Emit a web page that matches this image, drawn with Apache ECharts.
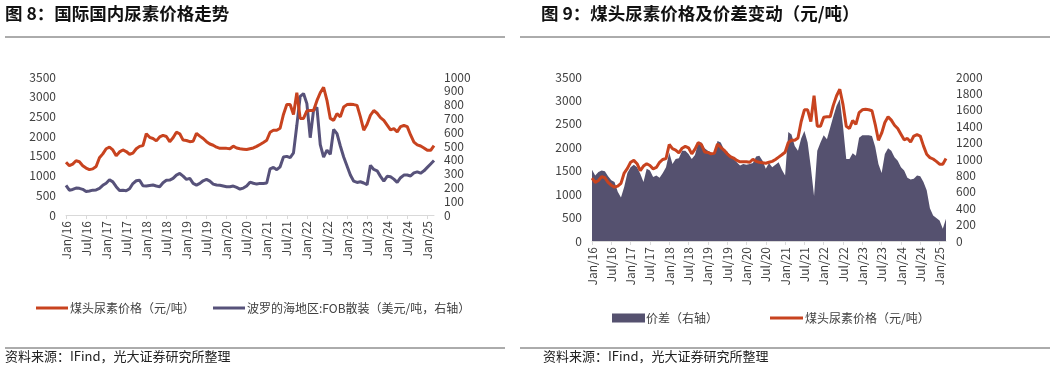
<!DOCTYPE html>
<html><head><meta charset="utf-8">
<script src="https://cdn.jsdelivr.net/npm/echarts@6/dist/echarts.min.js"></script>
<style>html,body{margin:0;padding:0;background:#fff}#c{width:1054px;height:369px}</style>
</head><body><div id="c"></div>
<script>
const months = [
 '2016-01','2016-02','2016-03','2016-04','2016-05','2016-06','2016-07','2016-08','2016-09','2016-10','2016-11','2016-12',
 '2017-01','2017-02','2017-03','2017-04','2017-05','2017-06','2017-07','2017-08','2017-09','2017-10','2017-11','2017-12',
 '2018-01','2018-02','2018-03','2018-04','2018-05','2018-06','2018-07','2018-08','2018-09','2018-10','2018-11','2018-12',
 '2019-01','2019-02','2019-03','2019-04','2019-05','2019-06','2019-07','2019-08','2019-09','2019-10','2019-11','2019-12',
 '2020-01','2020-02','2020-03','2020-04','2020-05','2020-06','2020-07','2020-08','2020-09','2020-10','2020-11','2020-12',
 '2021-01','2021-02','2021-03','2021-04','2021-05','2021-06','2021-07','2021-08','2021-09','2021-10','2021-11','2021-12',
 '2022-01','2022-02','2022-03','2022-04','2022-05','2022-06','2022-07','2022-08','2022-09','2022-10','2022-11','2022-12',
 '2023-01','2023-02','2023-03','2023-04','2023-05','2023-06','2023-07','2023-08','2023-09','2023-10','2023-11','2023-12',
 '2024-01','2024-02','2024-03','2024-04','2024-05','2024-06','2024-07','2024-08','2024-09','2024-10','2024-11','2024-12',
 '2025-01','2025-02','2025-03'
];
// 煤头尿素价格 (元/吨)
const coalUrea = [
 1340,1250,1290,1375,1350,1250,1190,1150,1170,1230,1450,1550,
 1680,1720,1650,1500,1600,1650,1610,1540,1570,1680,1740,1760,
 2060,1970,1940,1880,1980,2020,1990,1860,1960,2100,2060,1900,
 1890,1860,1870,2070,2000,1940,1860,1800,1770,1720,1690,1690,
 1690,1680,1745,1700,1680,1670,1660,1680,1700,1740,1790,1840,
 1895,2100,2150,2150,2200,2550,2800,2800,2550,3100,2450,2450,
 2640,2650,2650,2900,3100,3240,2910,2450,2400,2570,2490,2740,
 2800,2810,2800,2780,2490,2150,2300,2530,2650,2580,2470,2400,
 2280,2160,2190,2110,2240,2270,2240,2030,1850,1780,1750,1700,
 1640,1640,1760
];
// 波罗的海地区:FOB散装 (美元/吨)
const balticFob = [
 215,180,185,195,193,186,170,174,180,182,193,215,
 230,255,240,205,178,180,176,190,228,248,252,212,
 210,214,217,210,205,234,252,253,265,289,301,282,
 258,265,229,217,229,248,258,245,224,217,215,210,
 205,205,210,200,188,195,210,238,230,224,229,229,
 232,335,345,328,349,420,425,415,450,650,860,880,
 807,560,760,780,510,420,470,440,620,590,500,420,
 355,290,245,236,241,232,220,360,330,320,280,245,
 280,277,260,236,270,289,290,283,305,313,303,320,
 345,370,395
];
// 价差 (元/吨, 右轴)
const spread = [
 870,800,840,860,850,790,740,720,600,530,660,830,
 900,930,900,820,720,880,860,780,800,770,830,900,
 1080,940,1000,1010,1100,1100,1060,1000,1050,1200,1200,1130,
 1100,1080,1060,1220,1200,1120,1090,1040,1000,960,920,940,
 930,940,950,1030,1040,980,880,950,900,930,960,870,
 800,1330,1300,1160,1100,1250,1340,1200,900,550,1100,1200,
 1290,1240,1380,1520,1650,1730,1400,1000,1000,1070,1040,1260,
 1290,1290,1290,1280,1150,940,830,1060,1130,1100,1020,980,
 900,860,770,750,760,800,790,720,620,400,310,280,
 250,150,270
];
const monthNames = {'01':'Jan','07':'Jul'};

const FONT = '"Noto Sans CJK SC", "Noto Sans", sans-serif';
const RED = '#C8431F', PURPLE = '#57527A', AREA = '#55516F';
const TXT = '#404040';

function xAxisCfg(gi){
  return {
    type:'category', gridIndex:gi, data:months, boundaryGap:false,
    axisLine:{lineStyle:{color:'#D9D9D9', width:1}},
    axisTick:{interval:5, length:4, lineStyle:{color:'#D9D9D9'}},
    axisLabel:{interval:5, rotate:90, margin:6, color:TXT, fontSize:12, fontFamily:FONT,
      formatter:v=>{const p=v.split('-');return (monthNames[p[1]]||'')+'/'+p[0].slice(2);}},
    splitLine:{show:false}
  };
}
function yAxisCfg(gi,pos,max,interval){
  return {
    type:'value', gridIndex:gi, position:pos, min:0, max:max, interval:interval,
    axisLine:{show:false}, axisTick:{show:false}, splitLine:{show:false},
    axisLabel:{color:TXT, fontSize:12, fontFamily:FONT, margin:10, formatter:v=>String(v)}
  };
}

const chart = echarts.init(document.getElementById('c'), null, {renderer:'canvas'});
chart.setOption({
  animation:false,
  textStyle:{fontFamily:FONT},
  grid:[
    {left:66, top:77, width:368, height:138},
    {left:592, top:77, width:354, height:164}
  ],
  xAxis:[xAxisCfg(0), xAxisCfg(1)],
  yAxis:[
    yAxisCfg(0,'left',3500,500),
    yAxisCfg(0,'right',1000,100),
    yAxisCfg(1,'left',3500,500),
    yAxisCfg(1,'right',2000,200)
  ],
  legend:[
    {data:[{name:'煤头尿素价格（元/吨）',icon:'rect'}], left:31, top:297, itemWidth:32, itemHeight:3,
     textStyle:{color:TXT, fontSize:12, fontFamily:FONT, padding:[0,0,0,-3]}},
    {data:[{name:'波罗的海地区:FOB散装（美元/吨，右轴）',icon:'rect'}], left:208, top:297, itemWidth:32, itemHeight:3,
     textStyle:{color:TXT, fontSize:12, fontFamily:FONT, padding:[0,0,0,-3]}},
    {data:[{name:'价差（右轴）',icon:'rect'}], left:607, top:307, itemWidth:33, itemHeight:9,
     textStyle:{color:TXT, fontSize:12, fontFamily:FONT, padding:[0,0,0,-4]}},
    {data:[{name:'煤头尿素价格（元/吨）',icon:'rect'}], left:765, top:307, itemWidth:33, itemHeight:3,
     textStyle:{color:TXT, fontSize:12, fontFamily:FONT, padding:[0,0,0,-3]}}
  ],
  series:[
    {name:'煤头尿素价格（元/吨）', type:'line', xAxisIndex:0, yAxisIndex:0, data:coalUrea,
     showSymbol:false, color:RED, lineStyle:{width:3, color:RED}, z:3},
    {name:'波罗的海地区:FOB散装（美元/吨，右轴）', type:'line', xAxisIndex:0, yAxisIndex:1, data:balticFob,
     showSymbol:false, color:PURPLE, lineStyle:{width:3, color:PURPLE}, z:2},
    {name:'价差（右轴）', type:'line', xAxisIndex:1, yAxisIndex:3, data:spread,
     showSymbol:false, color:AREA, lineStyle:{width:0}, areaStyle:{color:AREA, opacity:1}, z:2},
    {name:'煤头尿素价格（元/吨）', type:'line', xAxisIndex:1, yAxisIndex:2, data:coalUrea,
     showSymbol:false, color:RED, lineStyle:{width:3, color:RED}, z:3}
  ],
  graphic:[
    {type:'text', left:5, top:5, style:{text:'图 8：国际国内尿素价格走势', fill:'#111', font:'bold 17.5px '+FONT}},
    {type:'text', left:541, top:5, style:{text:'图 9：煤头尿素价格及价差变动（元/吨）', fill:'#111', font:'bold 17.5px '+FONT}},
    {type:'line', shape:{x1:5,y1:37,x2:505,y2:37}, style:{stroke:'#595959', lineWidth:1}},
    {type:'line', shape:{x1:520,y1:37,x2:1050,y2:37}, style:{stroke:'#595959', lineWidth:1}},
    {type:'line', shape:{x1:5,y1:348,x2:505,y2:348}, style:{stroke:'#595959', lineWidth:1}},
    {type:'line', shape:{x1:520,y1:348,x2:1050,y2:348}, style:{stroke:'#595959', lineWidth:1}},
    {type:'text', left:5, top:350, style:{text:'资料来源：IFind，光大证券研究所整理', fill:'#222', font:'13px '+FONT}},
    {type:'text', left:543, top:350, style:{text:'资料来源：IFind，光大证券研究所整理', fill:'#222', font:'13px '+FONT}}
  ]
});
</script></body></html>
